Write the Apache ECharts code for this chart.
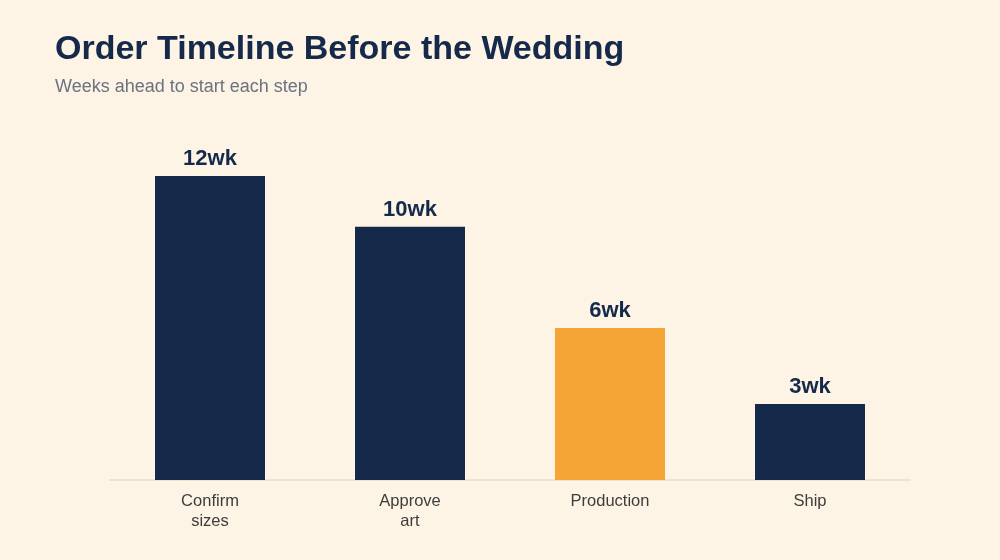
<!DOCTYPE html>
<html>
<head>
<meta charset="utf-8">
<style>
  html, body { margin: 0; padding: 0; background: #fdf4e5; }
  #chart { width: 1000px; height: 560px; }
</style>
<script src="https://cdn.jsdelivr.net/npm/echarts@6/dist/echarts.min.js"></script>
</head>
<body>
<div id="chart"></div>
<script>
var steps = ["Confirm\nsizes", "Approve\nart", "Production", "Ship"];
var weeks = [12, 10, 6, 3];
var highlight = "Production";

var navy = "#15294b";
var orange = "#f5a535";

var chart = echarts.init(document.getElementById("chart"));

var option = {
  backgroundColor: "#fdf4e5",
  title: {
    text: "Order Timeline Before the Wedding",
    subtext: "Weeks ahead to start each step",
    left: 55,
    top: 33,
    padding: 0,
    itemGap: 11,
    textStyle: {
      fontFamily: "Liberation Sans",
      fontSize: 34,
      fontWeight: "bold",
      color: navy,
    },
    subtextStyle: {
      fontFamily: "Liberation Sans",
      fontSize: 18,
      color: "#6b7280",
    },
  },
  grid: { left: 110, right: 90, top: 176, bottom: 80 },
  xAxis: {
    type: "category",
    data: steps,
    axisLine: { lineStyle: { color: "#efe3cf", width: 2 } },
    axisTick: { show: false },
    axisLabel: {
      margin: 11,
      fontFamily: "Liberation Sans",
      fontSize: 16.5,
      lineHeight: 20,
      color: "#3d3d3d",
    },
  },
  yAxis: {
    type: "value",
    min: 0,
    max: 12,
    show: false,
    splitLine: { show: false },
  },
  series: [
    {
      type: "bar",
      barWidth: 110,
      data: weeks.map(function (v, i) {
        return {
          value: v,
          itemStyle: { color: steps[i] === highlight ? orange : navy },
        };
      }),
      label: {
        show: true,
        position: "top",
        distance: 6,
        formatter: "{c}wk",
        fontFamily: "Liberation Sans",
        fontSize: 22,
        fontWeight: "bold",
        color: navy,
      },
    },
  ],
};

chart.setOption(option);
</script>
</body>
</html>
